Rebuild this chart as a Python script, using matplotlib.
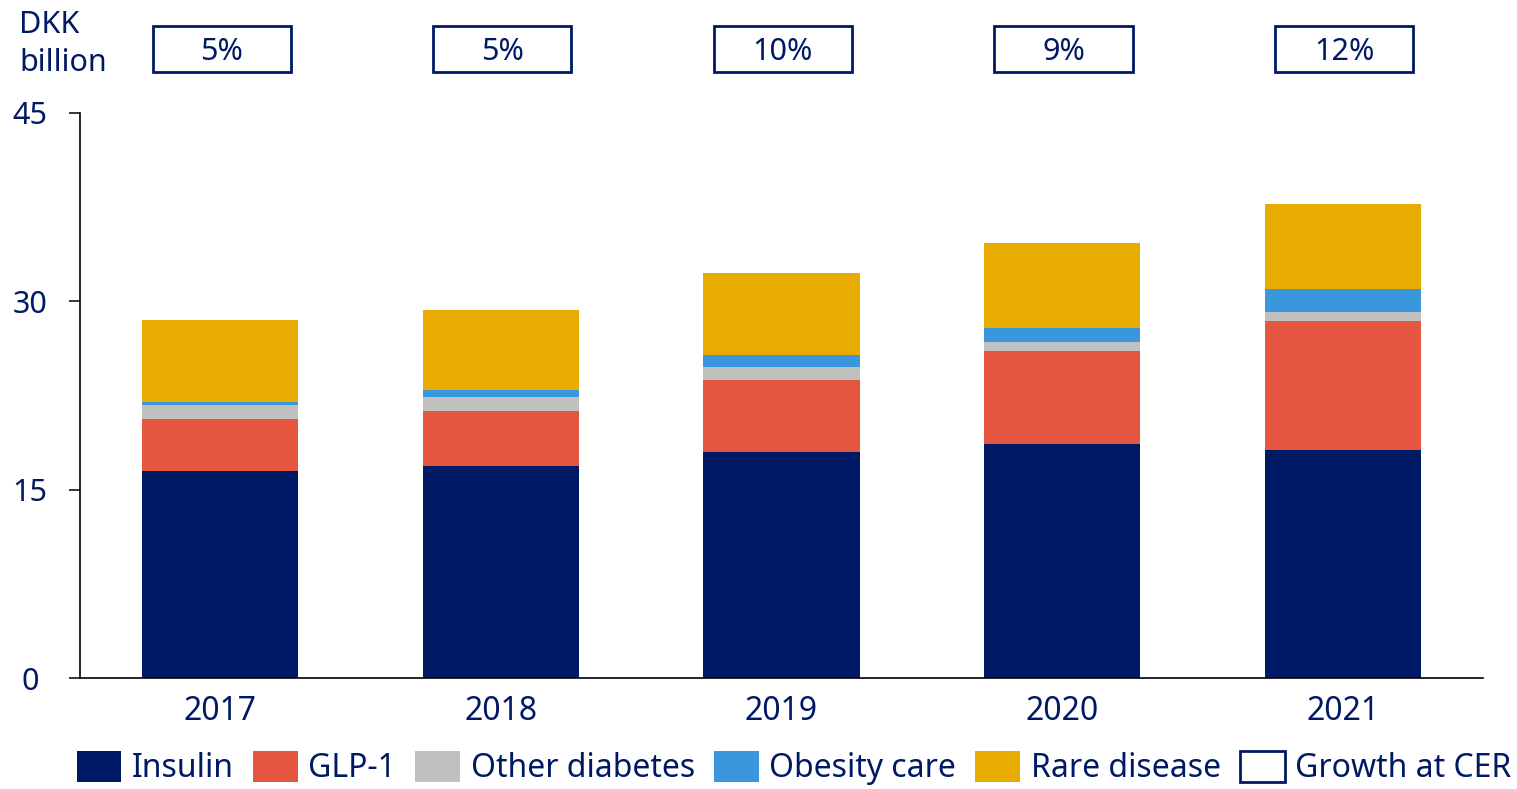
import matplotlib
matplotlib.use("Agg")
import matplotlib.pyplot as plt
from matplotlib.patches import Rectangle, Patch
from matplotlib.transforms import blended_transform_factory
import numpy as np

plt.rcParams['font.family'] = ['Noto Sans', 'DejaVu Sans']

years = ['2017', '2018', '2019', '2020', '2021']
insulin = [16.5, 16.9, 18.0, 18.65, 18.15]
glp1 = [4.1, 4.4, 5.7, 7.4, 10.3]
other_diabetes = [1.15, 1.05, 1.05, 0.75, 0.7]
obesity = [0.2, 0.55, 0.95, 1.1, 1.8]
rare = [6.6, 6.4, 6.55, 6.75, 6.8]
growth = ['5%', '5%', '10%', '9%', '12%']
series_names = ['Insulin', 'GLP-1', 'Other diabetes', 'Obesity care', 'Rare disease']
yticks = [0, 15, 30, 45]

NAVY = '#001965'
colors = [NAVY, '#E55641', '#C0C0C0', '#3A97DD', '#E8AB00']

W, H = 1517, 789
fig = plt.figure(figsize=(W / 100, H / 100), dpi=100)
ax = fig.add_axes([80 / W, 111 / H, 1403 / W, 565 / H])

x = np.arange(len(years))
bottom = np.zeros(len(years))
series = [insulin, glp1, other_diabetes, obesity, rare]
for vals, col, name in zip(series, colors, series_names):
    ax.bar(x, vals, width=0.556, bottom=bottom, color=col, label=name,
           edgecolor='none')
    bottom += np.array(vals)

ax.set_xlim(-0.5, 4.5)
ax.set_ylim(0, 45)
ax.set_yticks(yticks)
ax.set_yticklabels([str(v) for v in yticks])
ax.set_xticks(x)
ax.set_xticklabels(years)

for s in ['top', 'right']:
    ax.spines[s].set_visible(False)
for s in ['left', 'bottom']:
    ax.spines[s].set_linewidth(1.2)
    ax.spines[s].set_color('black')

ax.tick_params(axis='x', length=0, pad=12, labelsize=23, labelcolor=NAVY)
ax.tick_params(axis='y', length=8, width=1.1, color='black', pad=28,
               labelsize=22, labelcolor=NAVY)
for lab in ax.get_yticklabels():
    lab.set_horizontalalignment('center')

# Growth boxes
trans = blended_transform_factory(ax.transData, fig.transFigure)
bw = 0.492
by0 = 1 - 72 / H
bh = 46 / H
for i, g in enumerate(growth):
    r = Rectangle((x[i] - bw / 2 + 0.005, by0), bw, bh, transform=trans,
                  facecolor='white', edgecolor=NAVY, linewidth=2, clip_on=False)
    fig.add_artist(r)
    fig.text(x[i] + 0.005, by0 + bh / 2, g, transform=trans, fontsize=22,
             color=NAVY, ha='center', va='center_baseline')

fig.text(19 / W, 1 - 33 / H, 'DKK', fontsize=22, color=NAVY, va='baseline')
fig.text(19 / W, 1 - 71 / H, 'billion', fontsize=22, color=NAVY, va='baseline')

handles = [Patch(facecolor=c, edgecolor='none') for c in colors]
handles.append(Patch(facecolor='white', edgecolor=NAVY, linewidth=2))
labels = series_names + ['Growth at CER']
leg = fig.legend(handles, labels, loc='center', bbox_to_anchor=(794 / W, 1 - 768 / H),
                 ncol=6, frameon=False, fontsize=23, handlelength=1.4,
                 handleheight=1.1, handletextpad=0.33, columnspacing=0.6,
                 borderaxespad=0, borderpad=0)
for t in leg.get_texts():
    t.set_color(NAVY)

fig.savefig('out.png', dpi=100)
